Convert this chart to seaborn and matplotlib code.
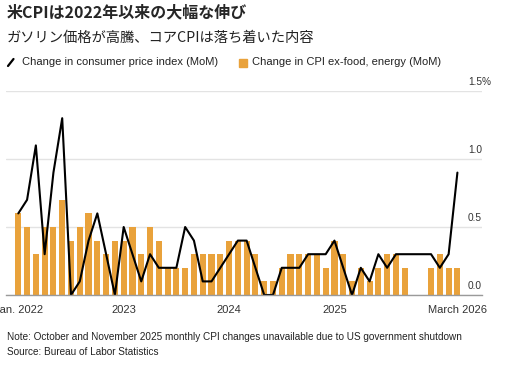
import numpy as np
import pandas as pd
import matplotlib
matplotlib.use("Agg")
import matplotlib.pyplot as plt
import matplotlib.transforms as mtransforms
from matplotlib.lines import Line2D
from matplotlib.patches import Rectangle
import seaborn as sns

# monthly data, Jan 2022 .. Mar 2026 (Oct/Nov 2025 missing)
month_idx = list(range(51))
cpi_mom = [0.6, 0.7, 1.1, 0.3, 0.9, 1.3, 0.0, 0.1, 0.4, 0.6, 0.3, 0.0,
           0.5, 0.3, 0.1, 0.3, 0.2, 0.2, 0.2, 0.5, 0.4, 0.1, 0.1, 0.2,
           0.3, 0.4, 0.4, 0.2, 0.0, 0.0, 0.2, 0.2, 0.2, 0.3, 0.3, 0.3,
           0.4, 0.2, 0.0, 0.2, 0.1, 0.3, 0.2, 0.3, 0.3, np.nan, np.nan, 0.3,
           0.2, 0.3, 0.9]
core_mom = [0.6, 0.5, 0.3, 0.5, 0.5, 0.7, 0.4, 0.5, 0.6, 0.4, 0.3, 0.4,
            0.4, 0.5, 0.3, 0.5, 0.4, 0.2, 0.2, 0.2, 0.3, 0.3, 0.3, 0.3,
            0.4, 0.4, 0.4, 0.3, 0.1, 0.1, 0.2, 0.3, 0.3, 0.3, 0.3, 0.2,
            0.4, 0.3, 0.1, 0.2, 0.1, 0.2, 0.3, 0.3, 0.2, np.nan, np.nan, 0.2,
            0.3, 0.2, 0.2]
tick_pos = [0, 12, 24, 36, 50]
tick_labels = ["Jan. 2022", "2023", "2024", "2025", "March 2026"]
y_ticks = [0.0, 0.5, 1.0, 1.5]
y_tick_labels = ["0.0", "0.5", "1.0", "1.5%"]

title = "米CPIは2022年以来の大幅な伸び"
subtitle = "ガソリン価格が高騰、コアCPIは落ち着いた内容"
line_label = "Change in consumer price index (MoM)"
bar_label = "Change in CPI ex-food, energy (MoM)"
note = "Note: October and November 2025 monthly CPI changes unavailable due to US government shutdown"
source = "Source: Bureau of Labor Statistics"

orange = "#E9A23B"
df = pd.DataFrame({"month": month_idx, "cpi": cpi_mom, "core": core_mom})

sns.set_style("white")
plt.rcParams["font.family"] = ["Liberation Sans", "Noto Sans CJK JP"]
cjk = ["Noto Sans CJK JP", "DejaVu Sans"]

W, H = 509, 367
fig = plt.figure(figsize=(W / 100, H / 100), dpi=100)
ax = fig.add_axes([6 / W, 72 / H, 476 / W, 204 / H])

sns.barplot(data=df.dropna(subset=["core"]), x="month", y="core", native_scale=True,
            color=orange, saturation=1, width=0.7, errorbar=None, linewidth=0, ax=ax)
sns.lineplot(data=df.dropna(subset=["cpi"]), x="month", y="cpi", color="black",
             lw=1.5, ax=ax)

ax.set_xlim(-1.4, 52.8)
ax.set_ylim(0, 1.5)
ax.set_xlabel("")
ax.set_ylabel("")

# grid + right-side labels sitting above the gridlines
ax.set_yticks(y_ticks)
ax.yaxis.grid(True, color="#e3e3e3", lw=1)
ax.set_axisbelow(True)
ax.tick_params(axis="y", left=False, right=False, labelleft=False, labelright=False)
off = mtransforms.ScaledTranslation(0, 3 / 72, fig.dpi_scale_trans)
for v, lab in zip(y_ticks, y_tick_labels):
    ax.text(0.9706, v, lab, transform=ax.get_yaxis_transform() + off,
            ha="left", va="bottom", fontsize=7.3, color="#333333")

for s in ["top", "left", "right"]:
    ax.spines[s].set_visible(False)
ax.spines["bottom"].set_color("#9a9a9a")
ax.spines["bottom"].set_linewidth(1)

# the first label runs off the left edge, as in the original
ax.set_xticks(tick_pos, tick_labels)
ax.set_xticks(month_idx, minor=True)
ax.tick_params(axis="x", which="major", length=4, width=1, color="#555555",
               labelsize=8, labelcolor="#333333", pad=3.5)
ax.tick_params(axis="x", which="minor", length=3, width=0.8, color="#888888")

# header
fig.text(7 / W, 1 - 12 / H, title, fontsize=11.5, fontweight="bold", family=cjk,
         va="center", ha="left")
fig.text(7 / W, 1 - 38 / H, subtitle, fontsize=10.3, family=cjk, va="center",
         ha="left", color="#222222")

# legend
fig.add_artist(Line2D([8 / W, 13.5 / W], [1 - 66 / H, 1 - 59 / H], color="black",
                      lw=1.6, transform=fig.transFigure))
fig.text(22 / W, 1 - 62 / H, line_label, fontsize=8, va="center", ha="left", color="#222222")
fig.add_artist(Rectangle((239 / W, 1 - 66.5 / H), 8 / W, 8 / H, color=orange,
                         transform=fig.transFigure))
fig.text(252 / W, 1 - 62 / H, bar_label, fontsize=8, va="center", ha="left", color="#222222")

# footer
fig.text(7 / W, 1 - 337 / H, note, fontsize=7.2, va="center", ha="left", color="#222222")
fig.text(7 / W, 1 - 352 / H, source, fontsize=7.2, va="center", ha="left", color="#222222")

fig.savefig("out.png", dpi=100)
